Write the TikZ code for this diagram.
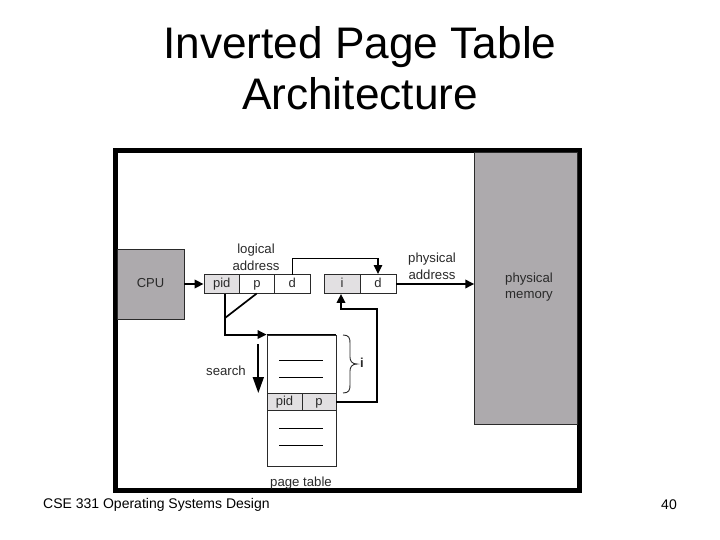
\documentclass[tikz,border=0pt]{standalone}
\usepackage{fontspec}
\setmainfont{Liberation Sans}
\usetikzlibrary{arrows.meta,calc}
\definecolor{boxgray}{HTML}{ADAAAD}
\definecolor{cellgray}{HTML}{E2E0E2}
\definecolor{ink}{HTML}{2A2A2A}
\tikzset{
  cell/.style={draw=ink,line width=.9pt,inner sep=0pt,font=\fontsize{13}{14}\selectfont,text=ink,text height=9pt,text depth=3pt},
  lbl/.style={inner sep=0pt,font=\fontsize{13.2}{16.5}\selectfont,text=ink,align=center},
  conn/.style={line width=1.9pt,black,-{Triangle[length=9pt,width=8.5pt]}},
  thinconn/.style={line width=1.2pt,black,-{Triangle[length=9pt,width=8.5pt]}},
  plain/.style={line width=1.7pt,black},
  rule/.style={line width=.9pt,black},
  titletext/.style={inner sep=0pt,font=\fontsize{44.2}{51}\selectfont,align=center,text=black},
  foot/.style={inner sep=0pt,font=\fontsize{14}{16}\selectfont,text=black}
}
\begin{document}
\begin{tikzpicture}[x=1pt,y=-1pt]
\useasboundingbox (0,0) rectangle (720,540);
\fill[white] (0,0) rectangle (720,540);
\node[titletext] (title) at (360,68) {Inverted Page Table\\Architecture};
% frame
\node[draw=black,line width=5pt,minimum width=464pt,minimum height=340pt,inner sep=0pt] (frame) at (347.5,320.5) {};
% memory and cpu
\node[fill=boxgray,draw=ink,line width=.5pt,minimum width=103pt,minimum height=272pt,inner sep=0pt] (mem) at (526,288) {};
\node[lbl] (memtext) at (529,287) {physical\\memory};
\node[cell,fill=boxgray,minimum width=67pt,minimum height=70pt] (cpu) at (150.5,284) {CPU};
% logical address
\node[cell,fill=cellgray,minimum width=35.5pt,minimum height=19pt] (pid) at (221.75,284) {pid};
\node[cell,fill=white,minimum width=35pt,minimum height=19pt] (p) at (257,284) {p};
\node[cell,fill=white,minimum width=35.5pt,minimum height=19pt] (d) at (292.25,284) {d};
\node[lbl] (logical) at (256,257.5) {logical\\address};
% physical address
\node[cell,fill=cellgray,minimum width=36pt,minimum height=19pt] (i) at (342,284) {i};
\node[cell,fill=white,minimum width=36pt,minimum height=19pt] (d2) at (378,284) {d};
\node[lbl] (physical) at (432,266.5) {physical\\address};
% page table
\node[cell,fill=white,minimum width=69pt,minimum height=131pt] (table) at (301.5,400.5) {};
\node[cell,fill=cellgray,minimum width=35pt,minimum height=17.5pt] (tpid) at (284.5,402) {pid};
\node[cell,fill=cellgray,minimum width=34pt,minimum height=17.5pt] (tp) at (319,402) {p};
\node[lbl] (ptl) at (301,483) {page table};
\node[lbl] (search) at (226,371) {search};
\node[lbl,font=\fontsize{13}{14}\selectfont\bfseries] (ilabel) at (362,363) {i};
% table rows
\foreach \n/\y in {a/360,b/377,c/428,e/445}{
  \coordinate (r\n l) at (279,\y);
  \coordinate (r\n r) at (323,\y);
  \draw[rule] (r\n l) -- (r\n r);
}
% connectors
\draw[conn] (cpu.east) -- (pid.west);
\coordinate (dtop) at (292.7,274.5);
\draw[thinconn] (dtop) |- (292.7,258.3) -| (d2.north);
\draw[conn] (d2.east) -- (mem.west |- d2.east);
\coordinate (pidbot) at (225,293.5);
\coordinate (join) at (225,318);
\coordinate (pbot) at (256.7,293.5);
\draw[plain] (pbot) -- (join);
\draw[conn] (pidbot) |- (table.north west);
\draw[plain,line width=1.5pt] (table.north west) -- (table.north east);
\coordinate (sa) at (258.3,344);
\coordinate (sb) at (258.3,393);
\draw[line width=1.7pt,-{Triangle[length=16pt,width=11pt]}] (sa) -- (sb);
\coordinate (ra) at (376.7,402);
\coordinate (rb) at (376.7,309.3);
\coordinate (rc) at (341,309.3);
\draw[conn] (tp.east) -- (ra) -- (rb) -- (rc) -- (rc |- i.south);
% brace
\coordinate (b1) at (343,335);
\coordinate (b2) at (343,393);
\coordinate (bt) at (357,364);
\draw[line width=.9pt,ink] (b1) .. controls (349,335) and (350,338) .. (350,343) -- (350,357) .. controls (350,361) and (352,364) .. (bt) .. controls (352,364) and (350,367) .. (350,371) -- (350,385) .. controls (350,390) and (349,393) .. (b2);
% footer
\node[foot,anchor=west] (footl) at (43,505) {CSE 331 Operating Systems Design};
\node[foot,anchor=east] (footr) at (677,505) {40};
\end{tikzpicture}
\end{document}
